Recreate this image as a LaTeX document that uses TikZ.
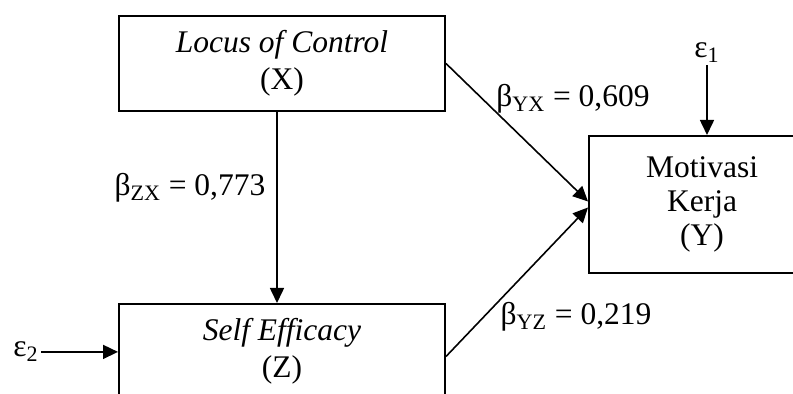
\documentclass[tikz,border=0pt]{standalone}
\usepackage{fontspec}
\setmainfont{Liberation Serif}
\usetikzlibrary{arrows.meta, positioning}
\tikzset{
  var/.style   = {rectangle, draw=black, line width=1pt, inner sep=0pt, align=center,
                  font=\fontsize{15.75}{17}\selectfont},
  flow/.style  = {-{Triangle[length=7.5pt,width=7pt]}, line width=0.8pt, black},
  lbl/.style   = {font=\fontsize{15.75}{17.5}\selectfont, inner sep=1pt},
}

\begin{document}
\begin{tikzpicture}[x=0.5pt,y=-0.5pt,
    exo/.style={var, minimum width=163pt, minimum height=47.5pt,
                font=\fontsize{15.75}{18.5}\selectfont},
    endo/.style={var, minimum width=113pt, minimum height=68.5pt}]
  \clip (0,0) rectangle (793,394);
  \node[exo] (X) at (282,63.5) {\textit{Locus of Control}\\(X)};
  \node[exo] (Z) at (282,351.5) {\textit{Self Efficacy}\\(Z)};
  \node[endo] (Y) at (702,204.5) {Motivasi\\Kerja\\(Y)};
  \node[lbl, anchor=base] (e1) at (707,58) {ε\textsubscript{1}};
  \node[lbl, anchor=base east] (e2) at (41,357) {ε\textsubscript{2}};
  \node[lbl] (bzx) at (190,188) {β\textsubscript{ZX} = 0,773};
  \node[lbl] (byx) at (573,99) {β\textsubscript{YX} = 0,609};
  \node[lbl] (byz) at (576,317) {β\textsubscript{YZ} = 0,219};
  \coordinate (xz) at (277,0);
  \draw[flow] (xz |- X.south) -- (xz |- Z.north);
  \draw[flow] (X.east) -- ([yshift=1.5pt]Y.west);
  \draw[flow] ([yshift=-2.5pt]Z.east) -- ([yshift=-1.5pt]Y.west);
  \draw[flow] (e1) -- (e1 |- Y.north);
  \draw[flow] (e2) -- (Z.west |- e2);
\end{tikzpicture}
\end{document}
